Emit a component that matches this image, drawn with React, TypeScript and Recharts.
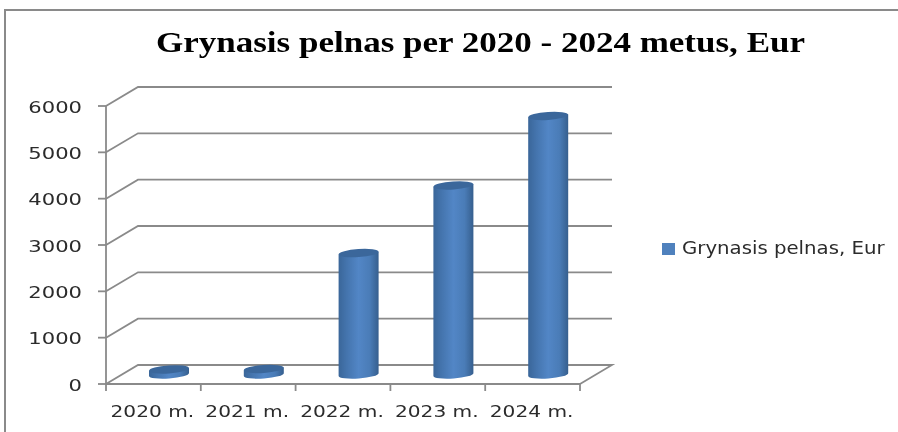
import React from "react";
import { BarChart, Bar, XAxis, YAxis, CartesianGrid, Legend } from "recharts";

const TITLE = "Grynasis pelnas per 2020 - 2024 metus, Eur";
const SERIES_NAME = "Grynasis pelnas, Eur";
const categories = ["2020 m.", "2021 m.", "2022 m.", "2023 m.", "2024 m."];
const profit = [110, 120, 2620, 4080, 5580];
const yTicks = [0, 1000, 2000, 3000, 4000, 5000, 6000];
const rows = categories.map((c, i) => ({ category: c, value: profit[i] }));

const GRID = "#8a8a8a";
const TEXT = "#2b2b2b";
const BLUE = "#4f81bd";
const DX = 32;
const DY = 19;
const FONT = "'DejaVu Sans'";
const PLOT_W = 474;
const BAND = PLOT_W / categories.length;

function gridLine(props: any) {
  const { x1, x2, y1, index } = props;
  const pts = [[x1, y1], [x1 + DX, y1 - DY], [x2 + DX, y1 - DY]];
  if (index === 0) pts.push([x2, y1]);
  return (
    <polyline
      key={"g" + index}
      points={pts.map((p) => p.join(",")).join(" ")}
      fill="none"
      stroke={GRID}
      strokeWidth={1.8}
    />
  );
}

function Cylinder(props: any) {
  const { x, y, width, height } = props;
  const cx = x + width / 2 + DX / 2;
  const rx = width / 2;
  const ry = 4;
  const tilt = -4;
  const top = y - DY / 2;
  const bottom = y + height - DY / 2;
  const left = cx - rx;
  const right = cx + rx;
  return (
    <g>
      <path
        d={`M${left},${top + 1.4} L${left},${bottom + 1.4} A${rx},${ry} ${tilt} 0 0 ${right},${bottom - 1.4} L${right},${top - 1.4} Z`}
        fill="url(#cyl)"
      />
      <ellipse cx={cx} cy={top} rx={rx} ry={ry} fill="#3b679b" transform={`rotate(${tilt} ${cx} ${top})`} />
    </g>
  );
}

function YTick(props: any) {
  const { y, payload } = props;
  return (
    <text
      transform={`translate(82 ${y + 6.5}) scale(1.32 1)`}
      textAnchor="end"
      fontFamily={FONT}
      fontSize={16}
      fill={TEXT}
    >
      {payload.value}
    </text>
  );
}

function XTick(props: any) {
  const { x, index, payload } = props;
  const axisY = 384;
  const leftX = x - BAND / 2;
  return (
    <g>
      <line x1={leftX} x2={leftX} y1={axisY} y2={axisY + 7} stroke={GRID} strokeWidth={1.8} />
      {index === categories.length - 1 ? (
        <line x1={leftX + BAND} x2={leftX + BAND} y1={axisY} y2={axisY + 7} stroke={GRID} strokeWidth={1.8} />
      ) : null}
      <text
        transform={`translate(${x - 1} 417) scale(1.26 1)`}
        textAnchor="middle"
        fontFamily={FONT}
        fontSize={16}
        fill={TEXT}
      >
        {payload.value}
      </text>
    </g>
  );
}

function LegendBox() {
  return (
    <div style={{ position: "absolute", left: 0, top: 0, width: 300, height: 20 }}>
      <div style={{ position: "absolute", left: 0, top: 2, width: 13, height: 12, background: BLUE }} />
      <div
        style={{
          position: "absolute",
          left: 20,
          top: -3,
          whiteSpace: "nowrap",
          fontFamily: FONT,
          fontSize: 17,
          color: TEXT,
          transformOrigin: "0 0",
          transform: "scaleX(1.16)",
        }}
      >
        {SERIES_NAME}
      </div>
    </div>
  );
}

export default function App() {
  return (
    <div style={{ position: "absolute", left: 0, top: 0, width: 898, height: 432, overflow: "hidden", background: "#fff", filter: "blur(0.35px)" }}>
      <div style={{ position: "absolute", left: 4, top: 9, width: 894, height: 423, borderTop: `2px solid ${GRID}`, borderLeft: `2px solid ${GRID}`, boxSizing: "border-box" }} />
      <BarChart
        width={898}
        height={432}
        data={rows}
        margin={{ top: 106, right: 318, bottom: 47, left: 46 }}
        barSize={40}
        style={{ position: "absolute", left: 0, top: 0 }}
      >
        <defs>
          <linearGradient id="cyl" x1="0" y1="0" x2="1" y2="0">
            <stop offset="0" stopColor="#3a6699" />
            <stop offset="0.2" stopColor="#4474ad" />
            <stop offset="0.5" stopColor="#5286c6" />
            <stop offset="0.78" stopColor="#4a7cb7" />
            <stop offset="1" stopColor="#365f8e" />
          </linearGradient>
        </defs>
        <text
          x={156}
          y={51.5}
          textLength={649}
          lengthAdjust="spacingAndGlyphs"
          fontFamily="'Liberation Serif'"
          fontWeight="bold"
          fontSize={30}
          fill="#000"
        >
          {TITLE}
        </text>
        <CartesianGrid vertical={false} horizontal={gridLine} />
        <XAxis
          dataKey="category"
          height={1}
          tickLine={false}
          axisLine={{ stroke: GRID, strokeWidth: 1.8 }}
          tick={<XTick />}
          interval={0}
        />
        <YAxis
          width={60}
          domain={[0, 6000]}
          ticks={yTicks}
          interval={0}
          tickSize={8}
          tickLine={{ stroke: GRID, strokeWidth: 1.8 }}
          axisLine={{ stroke: GRID, strokeWidth: 1.8 }}
          tick={<YTick />}
        />
        <Legend
          content={<LegendBox />}
          wrapperStyle={{ position: "absolute", left: 662, top: 241, width: 0, height: 0, bottom: "auto", right: "auto" }}
          layout="vertical"
          align="right"
          verticalAlign="middle"
        />
        <Bar dataKey="value" name={SERIES_NAME} fill={BLUE} shape={<Cylinder />} isAnimationActive={false} />
      </BarChart>
    </div>
  );
}
